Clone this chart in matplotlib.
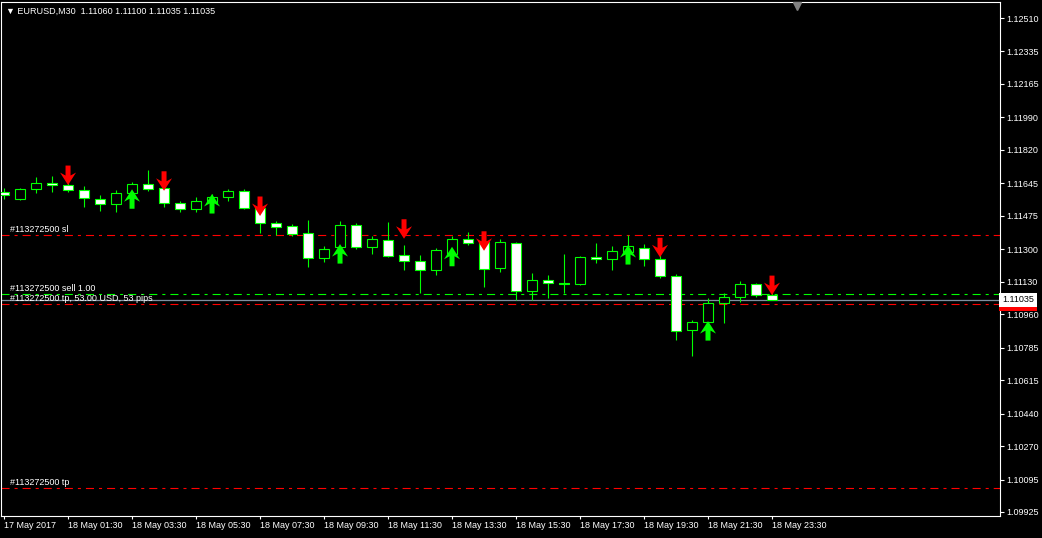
import numpy as np
import matplotlib.pyplot as plt
from matplotlib.patches import Polygon
import matplotlib.transforms as mtransforms

plt.rcParams['font.family'] = ['Liberation Sans', 'DejaVu Sans']
plt.rcParams['lines.scale_dashes'] = False

# EURUSD M30, 17 May 2017 23:30 .. 18 May 23:30
times = ['17 May 2017', '18 May 01:30', '18 May 03:30', '18 May 05:30', '18 May 07:30',
         '18 May 09:30', '18 May 11:30', '18 May 13:30', '18 May 15:30', '18 May 17:30',
         '18 May 19:30', '18 May 21:30', '18 May 23:30']

opens = [1.11602, 1.11563, 1.11614, 1.11647, 1.11635, 1.11608, 1.11561, 1.11535, 1.11593, 1.11641,
         1.11619, 1.11540, 1.11512, 1.11549, 1.11572, 1.11603, 1.11514, 1.11436, 1.11422, 1.11383,
         1.11253, 1.11313, 1.11427, 1.11313, 1.11348, 1.11270, 1.11238, 1.11190, 1.11273, 1.11352,
         1.11336, 1.11200, 1.11331, 1.11081, 1.11137, 1.11123, 1.11116, 1.11258, 1.11247, 1.11285,
         1.11305, 1.11247, 1.11160, 1.10879, 1.10918, 1.11017, 1.11048, 1.11116, 1.11060]
highs = [1.11620, 1.11620, 1.11676, 1.11683, 1.11647, 1.11631, 1.11584, 1.11610, 1.11652, 1.11715,
         1.11631, 1.11552, 1.11573, 1.11589, 1.11615, 1.11617, 1.11531, 1.11446, 1.11432, 1.11453,
         1.11317, 1.11448, 1.11436, 1.11369, 1.11444, 1.11322, 1.11270, 1.11305, 1.11369, 1.11390,
         1.11348, 1.11354, 1.11338, 1.11174, 1.11165, 1.11275, 1.11265, 1.11331, 1.11317, 1.11374,
         1.11327, 1.11270, 1.11170, 1.10930, 1.11046, 1.11069, 1.11134, 1.11122, 1.11100]
lows = [1.11563, 1.11558, 1.11593, 1.11601, 1.11601, 1.11519, 1.11502, 1.11496, 1.11558, 1.11606,
        1.11523, 1.11496, 1.11495, 1.11542, 1.11554, 1.11512, 1.11383, 1.11374, 1.11369, 1.11205,
        1.11235, 1.11301, 1.11303, 1.11275, 1.11261, 1.11191, 1.11071, 1.11165, 1.11265, 1.11322,
        1.11104, 1.11182, 1.11034, 1.11034, 1.11043, 1.11072, 1.11111, 1.11226, 1.11191, 1.11265,
        1.11214, 1.11151, 1.10825, 1.10743, 1.10909, 1.10916, 1.11025, 1.11052, 1.11035]
closes = [1.11584, 1.11615, 1.11645, 1.11635, 1.11608, 1.11567, 1.11535, 1.11593, 1.11641, 1.11617,
          1.11540, 1.11512, 1.11551, 1.11573, 1.11603, 1.11514, 1.11436, 1.11415, 1.11378, 1.11253,
          1.11300, 1.11427, 1.11313, 1.11352, 1.11266, 1.11238, 1.11190, 1.11296, 1.11354, 1.11331,
          1.11199, 1.11336, 1.11081, 1.11137, 1.11122, 1.11120, 1.11258, 1.11247, 1.11289, 1.11317,
          1.11247, 1.11160, 1.10874, 1.10918, 1.11017, 1.11048, 1.11116, 1.11059, 1.11035]

# signal arrows (bar index, arrow tip price)
sell_idx = [4, 10, 16, 25, 30, 41, 48]
sell_tip = [1.11636, 1.11606, 1.11474, 1.11355, 1.11292, 1.11258, 1.11060]
buy_idx = [8, 13, 21, 28, 39, 44]
buy_tip = [1.11614, 1.11589, 1.11327, 1.11313, 1.11322, 1.10924]

# order levels
sl_price = 1.11373
entry_price = 1.11065
tp_drag = 1.11012
tp_price = 1.10049
bid = 1.11035

yticks = [1.12510, 1.12335, 1.12165, 1.11990, 1.11820, 1.11645, 1.11475, 1.11300,
          1.11130, 1.10960, 1.10785, 1.10615, 1.10440, 1.10270, 1.10095, 1.09925]

lime = '#00ff00'
ymin, ymax = 1.09904, 1.12594
ax_h = 514

fig = plt.figure(figsize=(10.42, 5.38), dpi=100, facecolor='black')
ax = fig.add_axes([1/1042, 22/538, 999/1042, ax_h/538], facecolor='black')
ax.set_xlim(-0.19, 62.25)
ax.set_ylim(ymin, ymax)

o = np.array(opens); h = np.array(highs); l = np.array(lows); c = np.array(closes)
idx = np.arange(len(o))
bear = c < o

# order lines
dashdot = (0, (5.8, 3.6, 2.2, 3.6))
ax.axhline(sl_price, color='red', lw=0.8, ls=dashdot, zorder=1)
ax.axhline(entry_price, color=lime, lw=0.8, ls=dashdot, zorder=1)
ax.axhline(tp_drag, color='red', lw=0.8, ls=dashdot, zorder=1)
ax.axhline(tp_price, color='red', lw=0.8, ls=dashdot, zorder=1)
ax.axhline(bid, color='#8090a0', lw=0.9, zorder=1)

for txt, lvl in [('#113272500 sl', sl_price), ('#113272500 sell 1.00', entry_price),
                 ('#113272500 tp, 53.00 USD, 53 pips', tp_drag), ('#113272500 tp', tp_price)]:
    ax.annotate(txt, xy=(0, lvl), xycoords=('axes fraction', 'data'), xytext=(9, 6),
                textcoords='offset pixels', color='white', fontsize=6.5, va='center')

# candles
ax.vlines(idx, l, h, color=lime, lw=0.8, zorder=2)
ax.bar(idx, np.abs(c - o), bottom=np.minimum(o, c), width=0.62,
       color=np.where(bear, 'white', 'black'), edgecolor=lime, linewidth=0.8, zorder=3)

# arrows
sx = 1/16
sy = (ymax - ymin) / ax_h
shape = [(-2.5, 19.5), (2.5, 19.5), (2.5, 9.5), (8, 12.5), (0, 0), (-8, 12.5), (-2.5, 9.5)]

def arrow(x, tip, up, color):
    sgn = -1 if up else 1
    pts = [(x + px * sx, tip + sgn * py * sy) for px, py in shape]
    ax.add_patch(Polygon(pts, closed=True, fc=color, ec='none', zorder=4))

for i, p in zip(sell_idx, sell_tip):
    arrow(i, p, False, '#ff0000')
for i, p in zip(buy_idx, buy_tip):
    arrow(i, p, True, lime)

# chart shift marker
ax.plot([49.56], [0.993], marker='v', ms=6, color='#808080',
        transform=mtransforms.blended_transform_factory(ax.transData, ax.transAxes),
        clip_on=False, zorder=5)

# axes
ax.set_xticks(idx[::4])
ax.set_xticklabels(times, ha='left')
ax.yaxis.tick_right()
ax.set_yticks(yticks)
ax.set_yticklabels(['%.5f' % v for v in yticks])
ax.tick_params(axis='x', colors='white', length=2.4, width=0.8, pad=1.5, labelsize=6.5)
ax.tick_params(axis='y', colors='white', length=2.9, width=0.8, pad=1.5, labelsize=6.5)
for s in ax.spines.values():
    s.set_color('white')
    s.set_linewidth(0.8)

# price labels on the scale
ytr = ax.get_yaxis_transform()
ax.text(1.002, tp_drag, '1.11012', transform=ytr, va='center', ha='left', color='black',
        fontsize=6.5, bbox=dict(boxstyle='square,pad=0.3', fc='red', ec='none'), clip_on=False, zorder=6)
ax.text(1.002, bid, '1.11035', transform=ytr, va='center', ha='left', color='black',
        fontsize=6.5, bbox=dict(boxstyle='square,pad=0.3', fc='white', ec='none'), clip_on=False, zorder=7)

fig.text(6/1042, 1 - 11/538, '\u25bc EURUSD,M30  1.11060 1.11100 1.11035 1.11035',
         color='white', fontsize=6.5, va='center')

fig.savefig('out.png', dpi=100, facecolor='black')
